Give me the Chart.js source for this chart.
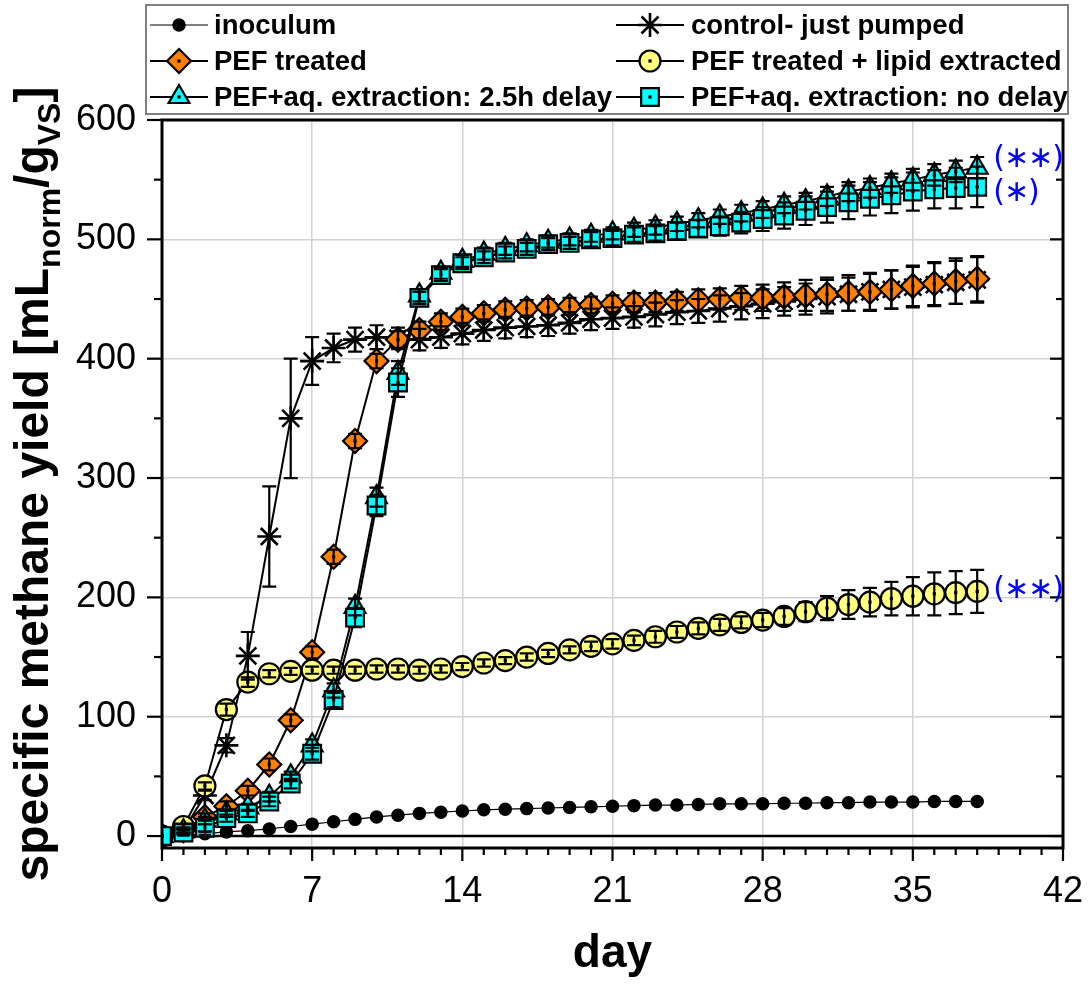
<!DOCTYPE html>
<html><head><meta charset="utf-8">
<script src="https://cdn.jsdelivr.net/npm/chart.js@4.4.1/dist/chart.umd.min.js"></script>
<style>html,body{margin:0;padding:0;background:#fff}#wrap{width:1090px;height:984px}</style>
</head><body><div id="wrap"><canvas id="c" width="1090" height="984"></canvas></div>
<script>
const days = [0,1,2,3,4,5,6,7,8,9,10,11,12,13,14,15,16,17,18,19,20,21,22,23,24,25,26,27,28,29,30,31,32,33,34,35,36,37,38];
const xTickVals = [0,7,14,21,28,35,42];
const yTickVals = [0,100,200,300,400,500,600];

const inoculum = [0,1,2,3.5,4.5,6,8,10,12,14,16,17.5,19,20,21,22,22.5,23,23.5,24,24.5,25,25.5,26,26,26.5,27,27,27,27.5,27.5,28,28,28.5,28.5,28.5,29,29,29];
const inoculumErr = [0,1,1,1,1,1,1,1,1,1,1,1,1,1,1,1,1,1,1,1,1,1,1,1,1,1,1,1,1,1,1,1,1,1,1,1,1,1,1];

const control = [0,5,34,76,151,251,350,398,409,416,418,417,416,418,421,424,426,427,428,430,433,434,435,437,439,440,442,444,446,448,450,452,454,456,458,460,462,464,466];
const controlErr = [0,2,4,6,20,42,50,20,12,10,10,9,9,9,9,9,9,9,9,9,9,9,9,10,10,10,11,11,12,12,13,14,14,15,16,17,18,18,19];

const pefTreated = [0,5,16,25,38,60,97,154,234,331,398,416,424,431,435,438,441,442,443,444,445,446,447,447,448,449,450,451,451,452,453,454,455,456,458,461,463,465,467];
const pefTreatedErr = [0,2,3,4,4,5,5,5,6,6,6,7,7,7,7,7,7,7,7,7,7,7,8,8,8,9,9,10,11,12,13,14,15,16,16,17,18,19,19];

const lipidExtracted = [0,8,42,106,129,136,138,139,139,139,140,140,139,140,142,145,147,150,153,156,159,161,164,167,171,174,177,179,181,184,188,191,194,196,199,201,203,204,205];
const lipidExtractedErr = [0,2,3,5,4,3,3,3,3,3,3,3,3,3,3,3,3,3,3,3,4,4,4,5,5,5,5,5,6,7,8,10,12,12,14,16,18,18,18];

const aqDelay = [0,4,13,19,24,33,50,76,122,192,284,388,453,472,482,488,492,495,498,500,503,505,508,510,513,516,519,522,525,529,532,536,540,543,547,550,554,557,560];
const aqDelayErr = [0,2,3,3,3,4,4,5,6,7,8,10,5,5,5,5,5,5,5,5,5,5,6,6,6,6,6,7,7,7,7,8,8,8,8,9,9,9,9];

const aqNoDelay = [0,3,7,15,19,29,44,69,114,183,277,380,451,470,480,485,489,492,496,497,500,501,504,505,507,509,511,514,517,520,524,527,531,534,537,540,542,543,544];
const aqNoDelayErr = [0,2,3,3,3,4,4,5,6,8,9,12,5,5,5,5,5,5,5,5,6,6,6,6,7,7,8,9,10,11,12,13,14,14,15,16,16,17,17];

const seriesLabels = ['inoculum','control- just pumped','PEF treated','PEF treated + lipid extracted','PEF+aq. extraction: 2.5h delay','PEF+aq. extraction: no delay'];

const FONT = '"Liberation Sans", Arial, Helvetica, sans-serif';
const toXY = arr => arr.map((v,i) => ({x: days[i], y: v}));

function mk(label, data, err, style, fill, radius, order, lineW, ptW, dot) {
  return {
    label, data: toXY(data), errors: err, centerDot: dot,
    borderColor: '#000', borderWidth: lineW, tension: 0, fill: false,
    pointStyle: style, pointRadius: radius, pointHoverRadius: radius,
    pointBackgroundColor: fill, pointBorderColor: '#000', pointBorderWidth: ptW,
    order
  };
}

const datasets = [
  mk(seriesLabels[0], inoculum, inoculumErr, 'circle', '#000', 6, 6, 1.2, 1.5, false),
  mk(seriesLabels[1], control, controlErr, 'star', '#000', 12, 5, 2, 2.6, false),
  mk(seriesLabels[2], pefTreated, pefTreatedErr, 'rectRot', '#ff8000', 12, 4, 2, 2.2, true),
  mk(seriesLabels[3], lipidExtracted, lipidExtractedErr, 'circle', '#ffff80', 10.5, 3, 2, 2.2, true),
  mk(seriesLabels[4], aqDelay, aqDelayErr, 'triangle', '#00ffff', 12, 2, 2, 2.2, true),
  mk(seriesLabels[5], aqNoDelay, aqNoDelayErr, 'rect', '#00ffff', 12.5, 1, 2, 2.2, true)
];

const zeroLine = {
  id: 'zeroLine',
  beforeDatasetsDraw(chart) {
    const {ctx, chartArea: a, scales: {y}} = chart;
    const y0 = y.getPixelForValue(0);
    ctx.save();
    ctx.strokeStyle = '#000'; ctx.lineWidth = 2.5;
    ctx.beginPath(); ctx.moveTo(a.left, y0); ctx.lineTo(a.right, y0); ctx.stroke();
    ctx.restore();
  }
};

const errorBars = {
  id: 'errorBars',
  afterDatasetsDraw(chart) {
    const {ctx, chartArea: a, scales: {y}} = chart;
    ctx.save();
    ctx.beginPath(); ctx.rect(a.left, a.top, a.right - a.left, a.bottom - a.top); ctx.clip();
    const idx = chart.data.datasets.map((d, i) => i).sort((p, q) => chart.data.datasets[q].order - chart.data.datasets[p].order);
    idx.forEach(i => {
      const ds = chart.data.datasets[i];
      const meta = chart.getDatasetMeta(i);
      const cap = i === 0 ? 6 : 7;
      meta.data.forEach((pt, j) => {
        const v = ds.data[j].y, e = ds.errors[j];
        if (ds.centerDot) {
          ctx.fillStyle = '#000';
          ctx.fillRect(pt.x - 1.6, pt.y - 1.6, 3.2, 3.2);
        }
        if (!e) return;
        const y1 = y.getPixelForValue(v + e), y2 = y.getPixelForValue(v - e);
        ctx.strokeStyle = '#000'; ctx.lineWidth = i === 0 ? 1.6 : 2.2;
        ctx.beginPath();
        ctx.moveTo(pt.x, y1); ctx.lineTo(pt.x, y2);
        ctx.moveTo(pt.x - cap, y1); ctx.lineTo(pt.x + cap, y1);
        ctx.moveTo(pt.x - cap, y2); ctx.lineTo(pt.x + cap, y2);
        ctx.stroke();
      });
    });
    ctx.restore();
  }
};

const frameTicks = {
  id: 'frameTicks',
  afterDraw(chart) {
    const {ctx, chartArea: a, scales: {x, y}} = chart;
    ctx.save();
    ctx.strokeStyle = '#000';
    ctx.lineWidth = 2.2;
    const ln = (x1, y1, x2, y2) => { ctx.beginPath(); ctx.moveTo(x1, y1); ctx.lineTo(x2, y2); ctx.stroke(); };
    const yStep = yTickVals[1] - yTickVals[0];
    for (let v = yTickVals[0]; v <= yTickVals[yTickVals.length - 1]; v += yStep / 2) {
      const py = y.getPixelForValue(v);
      const major = yTickVals.includes(v);
      ln(a.left - (major ? 15 : 8), py, a.left, py);
      ln(a.right - (major ? 13 : 7), py, a.right, py);
    }
    for (let d = xTickVals[0]; d <= xTickVals[xTickVals.length - 1]; d++) {
      const px = x.getPixelForValue(d);
      const major = xTickVals.includes(d);
      ln(px, a.bottom, px, a.bottom + (major ? 13 : 7));
    }
    ctx.lineWidth = 3;
    ctx.strokeRect(a.left, a.top, a.right - a.left, a.bottom - a.top);
    ctx.restore();
  }
};

const yTitle = {
  id: 'yTitle',
  afterDraw(chart) {
    const {ctx, chartArea: a} = chart;
    const big = 'bold 48px ' + FONT, small = 'bold 32px ' + FONT;
    const parts = [['specific methane yield [mL', big, 0], ['norm', small, 12], ['/g', big, 0], ['VS', small, 12], [']', big, 0]];
    ctx.save();
    let total = 0;
    parts.forEach(p => { ctx.font = p[1]; p.push(ctx.measureText(p[0]).width); total += p[3]; });
    ctx.translate(48, (a.top + a.bottom) / 2);
    ctx.rotate(-Math.PI / 2);
    ctx.fillStyle = '#000'; ctx.textBaseline = 'alphabetic'; ctx.textAlign = 'left';
    let xx = -total / 2;
    parts.forEach(p => { ctx.font = p[1]; ctx.fillText(p[0], xx, p[2]); xx += p[3]; });
    ctx.restore();
  }
};

const legendBox = {
  id: 'legendBox',
  afterDraw(chart) {
    const {ctx} = chart;
    ctx.save();
    ctx.strokeStyle = '#808080'; ctx.lineWidth = 2;
    ctx.strokeRect(146, 5, 922, 109);
    const cols = [{l0: 150, l1: 208, t: 214}, {l0: 616, l1: 684, t: 691}];
    const rows = [25, 61, 97];
    const H = Chart.helpers;
    chart.data.datasets.forEach((ds, i) => {
      const c = cols[i % 2], yy = rows[Math.floor(i / 2)];
      const cx = (c.l0 + c.l1) / 2;
      ctx.strokeStyle = '#000'; ctx.lineWidth = ds.borderWidth;
      ctx.beginPath(); ctx.moveTo(c.l0, yy); ctx.lineTo(c.l1, yy); ctx.stroke();
      ctx.fillStyle = ds.pointBackgroundColor; ctx.strokeStyle = '#000'; ctx.lineWidth = ds.pointBorderWidth;
      H.drawPoint(ctx, {pointStyle: ds.pointStyle, radius: ds.pointRadius, rotation: 0, borderWidth: ds.pointBorderWidth}, cx, yy);
      if (ds.centerDot) { ctx.fillStyle = '#000'; ctx.fillRect(cx - 1.6, yy - 1.6, 3.2, 3.2); }
      ctx.fillStyle = '#000'; ctx.font = 'bold 27.5px ' + FONT;
      ctx.textBaseline = 'middle'; ctx.textAlign = 'left';
      ctx.fillText(ds.label, c.t, yy + 1);
    });
    ctx.restore();
  }
};

const notes = {
  id: 'notes',
  afterDraw(chart) {
    const {ctx} = chart;
    const last = i => { const m = chart.getDatasetMeta(i).data; return m[m.length - 1]; };
    const items = [[4, '(\u2217\u2217)', -9], [5, '(\u2217)', 6], [3, '(\u2217\u2217)', -1]];
    ctx.save();
    ctx.fillStyle = '#0000ff'; ctx.font = '30px "DejaVu Sans", sans-serif';
    ctx.textBaseline = 'middle'; ctx.textAlign = 'left';
    try { ctx.letterSpacing = '-1px'; } catch (e) {}
    items.forEach(([i, t, dy]) => { const p = last(i); ctx.fillText(t, p.x + 16, p.y + dy); });
    ctx.restore();
  }
};

new Chart(document.getElementById('c'), {
  type: 'line',
  data: {datasets},
  options: {
    responsive: false, animation: false, devicePixelRatio: 1, events: [],
    layout: {padding: {top: 120, right: 27, left: 0, bottom: 0}},
    plugins: {legend: {display: false}, tooltip: {enabled: false}, title: {display: false}},
    scales: {
      x: {
        type: 'linear', min: 0, max: 42,
        afterBuildTicks: s => { s.ticks = xTickVals.map(v => ({value: v})); },
        afterFit: s => { s.height = 136; s.paddingLeft = 0; s.paddingRight = 0; },
        grid: {color: c => (c.tick && c.tick.value > 0 && c.tick.value < 42) ? '#d2d2d2' : 'rgba(0,0,0,0)', lineWidth: 1.5, drawTicks: false},
        border: {display: false},
        ticks: {font: {family: FONT, size: 36}, color: '#000', padding: 22, maxRotation: 0, autoSkip: false},
        title: {display: true, text: 'day', color: '#000', font: {family: FONT, size: 46, weight: 'bold'}, padding: {top: 0, bottom: 2}}
      },
      y: {
        type: 'linear', min: -10, max: 600,
        afterBuildTicks: s => { s.ticks = yTickVals.map(v => ({value: v})); },
        afterFit: s => { s.width = 162; s.paddingTop = 0; s.paddingBottom = 0; },
        grid: {color: c => (c.tick && c.tick.value > 0 && c.tick.value < 600) ? '#d2d2d2' : 'rgba(0,0,0,0)', lineWidth: 1.5, drawTicks: false},
        border: {display: false},
        ticks: {font: {family: FONT, size: 36}, color: '#000', padding: 26}
      }
    }
  },
  plugins: [zeroLine, errorBars, frameTicks, yTitle, legendBox, notes]
});
</script>
</body></html>
